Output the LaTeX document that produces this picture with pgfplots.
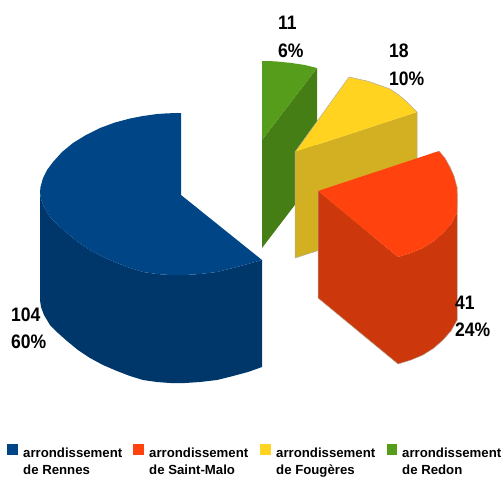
\documentclass[border=0pt]{standalone}
\usepackage{fontspec}
\setmainfont{Liberation Sans}
\usepackage{graphicx}
\usepackage{pgfplots}
\pgfplotsset{compat=1.18}
\definecolor{blueTop}{HTML}{004586}
\definecolor{blueSide}{HTML}{00376B}
\definecolor{redTop}{HTML}{FF420E}
\definecolor{redSide}{HTML}{CC380B}
\definecolor{yellowTop}{HTML}{FFD320}
\definecolor{yellowSide}{HTML}{D3AF22}
\definecolor{greenTop}{HTML}{579D1C}
\definecolor{greenSide}{HTML}{467E16}
\definecolor{rimGrey}{HTML}{B4AE9C}
\tikzset{
  big/.style={anchor=west, inner sep=0pt},
  small/.style={font=\fontsize{13.2}{13.2}\selectfont\bfseries, anchor=west, inner sep=0pt,
    text height=10pt, text depth=3pt},
}
% Value labels are set slightly condensed
\newcommand\val[1]{\scalebox{0.9}[1]{\fontsize{19.5}{19.5}\selectfont\bfseries #1}}
\begin{document}
\begin{tikzpicture}
\path[use as bounding box] (0,0) rectangle (502pt,477pt);
\begin{axis}[
  at={(0,0)}, anchor=south west,
  scale only axis, width=502pt, height=477pt,
  xmin=0, xmax=502, ymin=0, ymax=477, y dir=reverse,
  hide axis, clip=false,
]
% Rennes slice: 104 (60%)
\addplot[fill=blueSide, draw=none] coordinates {
  (262,260) (248,264) (233,268) (217,272) (200,274) (185,275) (170,275) (157,274)
  (143,272) (130,268) (117,263) (103,257) (90,250) (78,242) (67,233) (58,225)
  (50,217) (44,207) (41,199) (40,192)
  (40,300) (41,307) (44,315) (50,325) (58,333) (67,341) (78,350) (90,358)
  (103,365) (117,371) (130,376) (143,380) (157,382) (170,383) (185,383) (200,382)
  (217,380) (233,376) (248,372) (262,367)
} -- cycle;
\addplot[fill=blueTop, draw=none] coordinates {
  (181,195) (181,113) (168,113.3) (157,114) (143,116) (130,118.5) (115,122.5) (100,128)
  (86,135) (73,143) (62,152) (53,162) (47,170) (43,178) (40.5,187) (40,192)
  (41,199) (44,207) (50,217) (58,225) (67,233) (78,242) (90,250) (103,257)
  (117,263) (130,268) (143,272) (157,274) (170,275) (185,275) (200,274) (217,272)
  (233,268) (248,264) (262,260)
} -- cycle;
% Redon slice: 11 (6%)
\addplot[fill=greenSide, draw=none] coordinates {
  (262,140) (317,68) (317,176) (262,248)
} -- cycle;
\addplot[fill=greenTop, draw=none] coordinates {
  (262,140) (262,61) (275,61.3) (290,62.8) (305,65) (317,68)
} -- cycle;
% Fougeres slice: 18 (10%)
\addplot[fill=yellowSide, draw=none] coordinates {
  (295,152) (417,112) (417,219) (295,258)
} -- cycle;
\addplot[fill=yellowTop, draw=none] coordinates {
  (295,152) (349,77) (358,79) (367,81) (379,85) (390,89) (399,95) (407,102) (417,112)
} -- cycle;
\addplot[draw=rimGrey, line width=0.5pt] coordinates {
  (295,258) (295,152) (349,77) (358,79) (367,81) (379,85) (390,89) (399,95) (407,102)
  (417,112) (417,219) (295,258)
};
% Saint-Malo slice: 41 (24%)
\addplot[fill=redSide, draw=none] coordinates {
  (318,191) (398,257) (411,253) (423,248) (434,241) (443,233) (451,224) (457,213) (457,187)
  (457,320) (451,331) (443,340) (434,348) (423,355) (411,360) (398,364) (318,298)
} -- cycle;
\addplot[fill=redTop, draw=none] coordinates {
  (318,191) (439,151) (445,158) (450,167) (454,176) (457,187) (457.5,200) (457,213)
  (451,224) (443,233) (434,241) (423,248) (411,253) (398,257)
} -- cycle;
\addplot[draw=rimGrey, line width=0.5pt] coordinates {
  (439,151) (445,158) (450,167) (454,176) (457,187) (457.5,200) (457.5,320)
  (451,331) (443,340) (434,348) (423,355) (411,360) (398,364) (318,298) (318,191)
};
% Value labels
\node[big] at (axis cs:278,23) {\val{11}};
\node[big] at (axis cs:278,51) {\val{6\%}};
\node[big] at (axis cs:389,51) {\val{18}};
\node[big] at (axis cs:389,79) {\val{10\%}};
\node[big] at (axis cs:455,303) {\val{41}};
\node[big] at (axis cs:455,330) {\val{24\%}};
\node[big] at (axis cs:11,315) {\val{104}};
\node[big] at (axis cs:11,342) {\val{60\%}};
% Legend keys
\addplot[fill=blueTop, draw=none] coordinates {(7,444) (18,444) (18,455) (7,455)} -- cycle;
\addplot[fill=redTop, draw=none] coordinates {(133,444) (144,444) (144,455) (133,455)} -- cycle;
\addplot[fill=yellowTop, draw=none] coordinates {(260,444) (271,444) (271,455) (260,455)} -- cycle;
\addplot[fill=greenTop, draw=none] coordinates {(387,444) (397,444) (397,455) (387,455)} -- cycle;
% Legend entries
\node[small] at (axis cs:23,454.3) {arrondissement};
\node[small] at (axis cs:23,470.5) {de Rennes};
\node[small] at (axis cs:149,454.3) {arrondissement};
\node[small] at (axis cs:149,470.5) {de Saint-Malo};
\node[small] at (axis cs:276,454.3) {arrondissement};
\node[small] at (axis cs:276,470.5) {de Fougères};
\node[small] at (axis cs:402,454.3) {arrondissement};
\node[small] at (axis cs:402,470.5) {de Redon};
\end{axis}
\end{tikzpicture}
\end{document}
